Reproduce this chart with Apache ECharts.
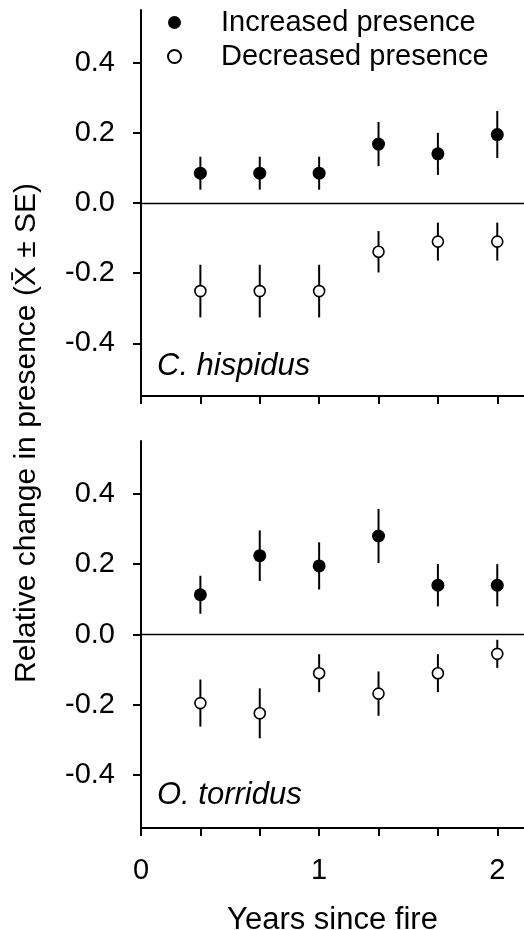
<!DOCTYPE html>
<html><head><meta charset="utf-8">
<script src="https://cdn.jsdelivr.net/npm/echarts@6/dist/echarts.min.js"></script>
<style>html,body{margin:0;padding:0;background:#fff}#c{width:524px;height:930px}</style>
</head><body><div id="c"></div>
<script>
// ---- data ----
const years = [1/3, 2/3, 1, 4/3, 5/3, 2];
const hispIncMean = [0.085, 0.085, 0.085, 0.168, 0.14, 0.195];
const hispIncSE   = [0.047, 0.047, 0.047, 0.063, 0.06, 0.067];
const hispDecMean = [-0.251, -0.251, -0.251, -0.139, -0.11, -0.11];
const hispDecSE   = [0.075, 0.075, 0.075, 0.059, 0.054, 0.054];
const torrIncMean = [0.113, 0.224, 0.195, 0.28, 0.14, 0.14];
const torrIncSE   = [0.054, 0.072, 0.067, 0.077, 0.06, 0.06];
const torrDecMean = [-0.195, -0.224, -0.11, -0.168, -0.11, -0.055];
const torrDecSE   = [0.067, 0.071, 0.054, 0.063, 0.054, 0.04];
const xTicks = [0, 1/3, 2/3, 1, 4/3, 5/3, 2];
const xLabels = [0, 1, 2];
const yTicks = [-0.4, -0.2, 0, 0.2, 0.4];
const panelNames = ['C. hispidus', 'O. torridus'];
const seriesNames = ['Increased presence', 'Decreased presence'];

const FONT = '"Liberation Sans", Arial, sans-serif';
const chart = echarts.init(document.getElementById('c'), null, {renderer: 'canvas'});

function errRender(params, api) {
  const x = api.value(0), lo = api.value(1), hi = api.value(2);
  const p1 = api.coord([x, lo]), p2 = api.coord([x, hi]);
  return {type: 'line', shape: {x1: p1[0], y1: p1[1], x2: p2[0], y2: p2[1]},
          style: {stroke: '#000', lineWidth: 2}};
}
function errData(m, se) { return years.map((x, i) => [x, m[i] - se[i], m[i] + se[i]]); }
function ptData(m) { return years.map((x, i) => [x, m[i]]); }

const grids = [
  {left: 141, top: 10, right: 0, height: 386, outerBoundsMode: 'none', containLabel: false},
  {left: 141, top: 441, right: 0, height: 387, outerBoundsMode: 'none', containLabel: false}
];
const xAxes = [0, 1].map(g => ({
  type: 'value', gridIndex: g, min: 0, max: 2.15, position: 'bottom',
  axisLine: {show: true, onZero: false, lineStyle: {color: '#000', width: 2}},
  axisTick: {show: true, length: 8, customValues: xTicks, lineStyle: {color: '#000', width: 2}},
  axisLabel: {show: g === 1, customValues: xLabels, margin: 28, fontSize: 29, fontFamily: FONT, color: '#000',
              formatter: v => String(Math.round(v))},
  splitLine: {show: false},
  name: g === 1 ? 'Years since fire' : '', nameLocation: 'middle', nameGap: 77,
  nameTextStyle: {fontSize: 31, fontFamily: FONT, color: '#000'}
}));
const yAxes = [0, 1].map(g => ({
  type: 'value', gridIndex: g, min: -0.55, max: 0.55, position: 'left',
  axisLine: {show: true, onZero: false, lineStyle: {color: '#000', width: 2}},
  axisTick: {show: true, length: 8, customValues: yTicks, lineStyle: {color: '#000', width: 2}},
  axisLabel: {customValues: yTicks, margin: 26, fontSize: 29, fontFamily: FONT, color: '#000',
              formatter: v => v.toFixed(1)},
  splitLine: {show: false}
}));

const panels = [
  {inc: hispIncMean, incSE: hispIncSE, dec: hispDecMean, decSE: hispDecSE},
  {inc: torrIncMean, incSE: torrIncSE, dec: torrDecMean, decSE: torrDecSE}
];
const series = [];
panels.forEach((p, g) => {
  series.push({type: 'custom', xAxisIndex: g, yAxisIndex: g, renderItem: errRender,
    encode: {x: 0, y: [1, 2]}, data: errData(p.inc, p.incSE), silent: true, z: 2,
    markLine: {silent: true, symbol: 'none', label: {show: false},
      lineStyle: {color: '#000', width: 1.4, type: 'solid'}, data: [{yAxis: 0}]}});
  series.push({type: 'custom', xAxisIndex: g, yAxisIndex: g, renderItem: errRender,
    encode: {x: 0, y: [1, 2]}, data: errData(p.dec, p.decSE), silent: true, z: 2});
  series.push({type: 'scatter', name: seriesNames[0], xAxisIndex: g, yAxisIndex: g,
    symbol: 'circle', symbolSize: 13, itemStyle: {color: '#000', borderColor: '#000', borderWidth: 0, opacity: 1},
    data: ptData(p.inc), z: 3});
  series.push({type: 'scatter', name: seriesNames[1], xAxisIndex: g, yAxisIndex: g,
    symbol: 'circle', symbolSize: 11, itemStyle: {color: '#fff', borderColor: '#000', borderWidth: 1.6, opacity: 1},
    data: ptData(p.dec), z: 3});
});

chart.setOption({
  animation: false,
  backgroundColor: '#fff',
  grid: grids,
  xAxis: xAxes,
  yAxis: yAxes,
  legend: {data: seriesNames, orient: 'vertical', left: 162, top: 3, itemWidth: 13, itemHeight: 13, itemGap: 5,
    selectedMode: false,
    textStyle: {fontSize: 29, fontFamily: FONT, color: '#000', padding: [0, 0, 0, 35]}},
  graphic: [
    {type: 'text', x: 27, y: 433, rotation: Math.PI / 2,
     style: {text: 'Relative change in presence (X\u0304 \u00B1 SE)', font: '30px ' + FONT,
             textAlign: 'center', textVerticalAlign: 'middle', fill: '#000'}},
    {type: 'text', x: 157, y: 366,
     style: {text: panelNames[0], font: 'italic 31px ' + FONT, textAlign: 'left', textVerticalAlign: 'middle', fill: '#000'}},
    {type: 'text', x: 157, y: 795,
     style: {text: panelNames[1], font: 'italic 31px ' + FONT, textAlign: 'left', textVerticalAlign: 'middle', fill: '#000'}}
  ],
  series: series
});
</script></body></html>
